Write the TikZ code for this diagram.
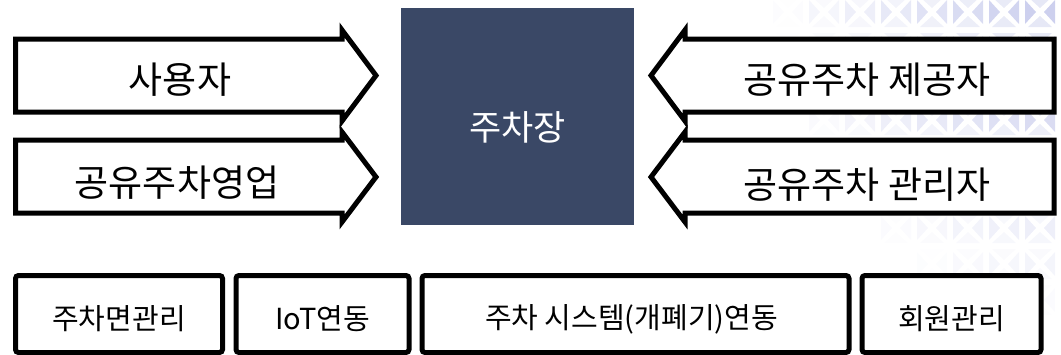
\documentclass[tikz,border=0pt]{standalone}
\usepackage{fontspec}
\setmainfont{Noto Sans CJK KR}
\definecolor{lotblue}{HTML}{3A4866}
\definecolor{tridark}{HTML}{CDD0EE}
\definecolor{trilight}{HTML}{E6E8F6}
\tikzset{
  role_a/.style = {draw=black, fill=white, line width=5pt,
    line join=miter},% fleche de role
  role_t/.style = {inner sep=0pt, font=\fontsize{37}{44}\selectfont},% texte du role
  lot_n/.style = {fill=lotblue, inner sep=0pt},% bloc central
  lot_t/.style = {inner sep=0pt, text=white,
    font=\fontsize{35}{42}\selectfont},% texte du bloc central
  feat_n/.style = {draw=black, fill=white, line width=5pt,
    rounded corners=3pt, minimum height=77pt, inner sep=0pt},% fonction
  feat_t/.style = {inner sep=0pt, font=\fontsize{29}{35}\selectfont},% texte de fonction
  tri_d/.style = {fill=tridark},% motif de fond, fonce
  tri_l/.style = {fill=trilight}% motif de fond, clair
}
\begin{document}
\begin{tikzpicture}[x=1pt,y=-1pt]
\useasboundingbox (0,0) rectangle (1061,354);
\clip (0,0) rectangle (1061,354);
% fond
\foreach \x in {770,806,...,1062}
  \foreach \y in {-6,30,...,282}{
    \pgfmathsetmacro\op{min(1,max(0,1.25-veclen(1079-\x,\y+18)/260))}
    \fill[tri_d, opacity=\op] (\x+3,\y+6) -- (\x+14,\y+18) -- (\x+3,\y+30) -- cycle;
    \fill[tri_d, opacity=\op] (\x+33,\y+6) -- (\x+22,\y+18) -- (\x+33,\y+30) -- cycle;
    \fill[tri_l, opacity=\op] (\x+6,\y+3) -- (\x+30,\y+3) -- (\x+18,\y+14) -- cycle;
    \fill[tri_l, opacity=\op] (\x+6,\y+33) -- (\x+30,\y+33) -- (\x+18,\y+22) -- cycle;
  }
% fleches
\draw[role_a] (15.5,39) -- (342,39) -- (342,30) -- (376,75.5)
  -- (342,121) -- (342,112) -- (15.5,112) -- cycle;
\draw[role_a] (15.5,140) -- (342,140) -- (342,132) -- (376,177)
  -- (342,222) -- (342,213) -- (15.5,213) -- cycle;
\draw[role_a] (1054,39) -- (685,39) -- (685,30) -- (651,75.5)
  -- (685,121) -- (685,112) -- (1054,112) -- cycle;
\draw[role_a] (1054,140) -- (685,140) -- (685,132) -- (651,177)
  -- (685,222) -- (685,213) -- (1054,213) -- cycle;
\node[role_t] (user) at (180,80) {사용자};
\node[role_t] (sales) at (177,183) {공유주차영업};
\node[role_t] (owner) at (867,80) {공유주차 제공자};
\node[role_t] (admin) at (867,185) {공유주차 관리자};
% bloc central
\node[lot_n, minimum width=233pt, minimum height=217pt] (lot) at (517.5,116.5) {};
\node[lot_t] (lotname) at ([yshift=-11pt]lot.center) {주차장};
% fonctions
\node[feat_n, minimum width=207pt] (f1) at (119,314) {};
\node[feat_n, minimum width=173pt] (f2) at (322.5,314) {};
\node[feat_n, minimum width=427pt] (f3) at (635.5,314) {};
\node[feat_n, minimum width=179pt] (f4) at (951.5,314) {};
\node[feat_t] (f1t) at ([yshift=-5pt]f1.center) {주차면관리};
\node[feat_t] (f2t) at ([yshift=-5pt]f2.center) {IoT연동};
\node[feat_t] (f3t) at ([xshift=-4pt,yshift=-5pt]f3.center) {주차 시스템(개폐기)연동};
\node[feat_t] (f4t) at ([yshift=-5pt]f4.center) {회원관리};
\end{tikzpicture}
\end{document}
